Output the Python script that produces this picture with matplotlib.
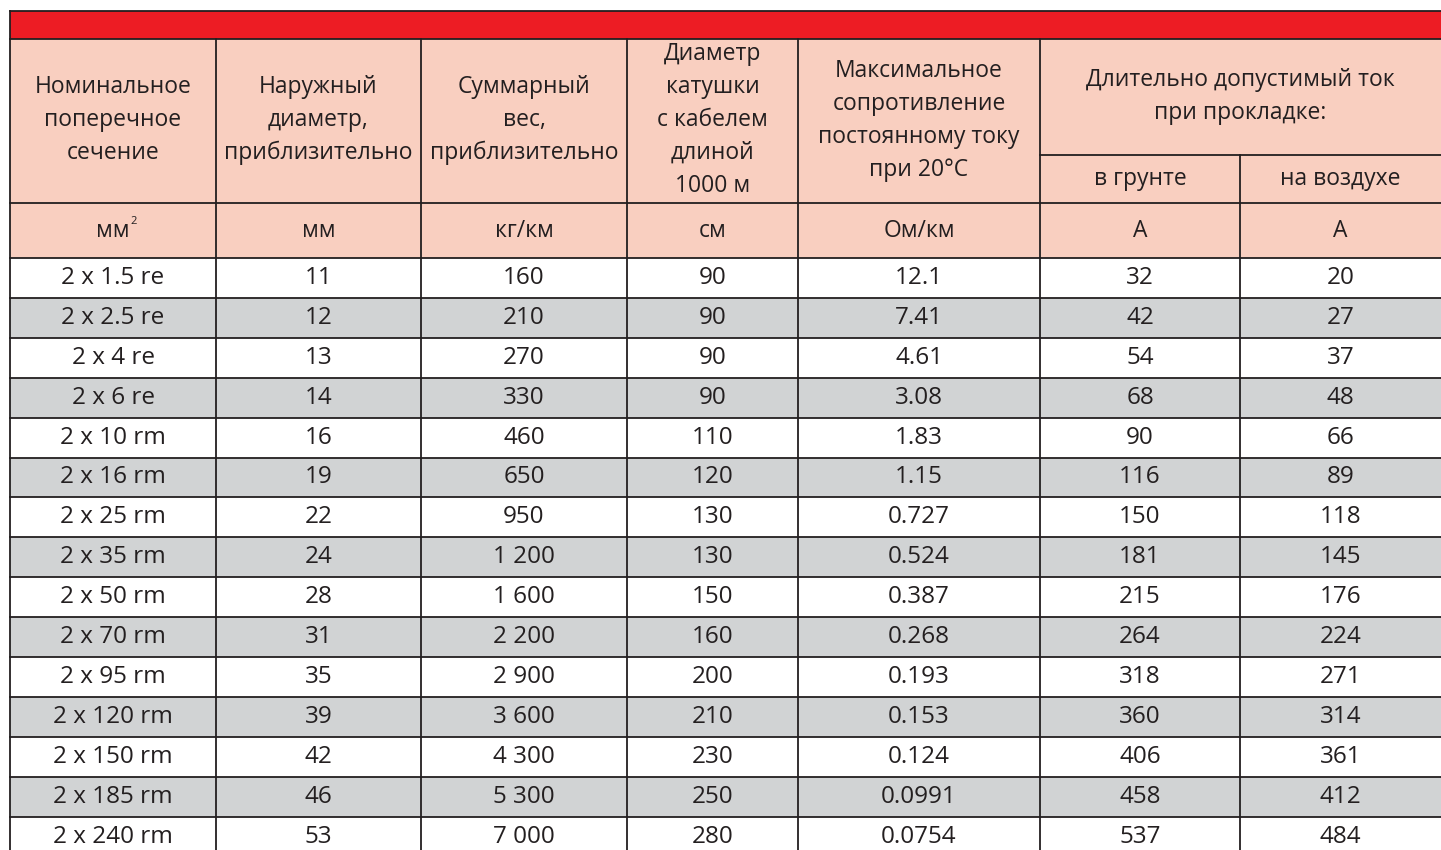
import matplotlib.pyplot as plt
from matplotlib.patches import Rectangle

# table content
sections = ["2 x 1.5 re", "2 x 2.5 re", "2 x 4 re", "2 x 6 re", "2 x 10 rm",
            "2 x 16 rm", "2 x 25 rm", "2 x 35 rm", "2 x 50 rm", "2 x 70 rm",
            "2 x 95 rm", "2 x 120 rm", "2 x 150 rm", "2 x 185 rm", "2 x 240 rm"]
outer_diam = ["11", "12", "13", "14", "16", "19", "22", "24", "28", "31",
              "35", "39", "42", "46", "53"]
weight = ["160", "210", "270", "330", "460", "650", "950", "1 200", "1 600",
          "2 200", "2 900", "3 600", "4 300", "5 300", "7 000"]
drum_diam = ["90", "90", "90", "90", "110", "120", "130", "130", "150", "160",
             "200", "210", "230", "250", "280"]
resistance = ["12.1", "7.41", "4.61", "3.08", "1.83", "1.15", "0.727", "0.524",
              "0.387", "0.268", "0.193", "0.153", "0.124", "0.0991", "0.0754"]
current_ground = ["32", "42", "54", "68", "90", "116", "150", "181", "215",
                  "264", "318", "360", "406", "458", "537"]
current_air = ["20", "27", "37", "48", "66", "89", "118", "145", "176", "224",
               "271", "314", "361", "412", "484"]

headers = ["Номинальное\nпоперечное\nсечение", "Наружный\nдиаметр,\nприблизительно",
           "Суммарный\nвес,\nприблизительно", "Диаметр\nкатушки\nс кабелем\nдлиной\n1000 м",
           "Максимальное\nсопротивление\nпостоянному току\nпри 20°C"]
group_header = "Длительно допустимый ток\nпри прокладке:"
sub_headers = ["в грунте", "на воздухе"]
units = ["мм", "мм", "кг/км", "см", "Ом/км", "А", "А"]

columns = [sections, outer_diam, weight, drum_diam, resistance, current_ground, current_air]

# layout (pixels)
col_x = [10, 216, 421, 627, 798, 1040, 1240, 1441]
y_red_top, y_head, y_sub, y_units, y_data = 11, 39, 155, 203, 258
row_h = 39.9

RED = "#ED1C24"
PINK = "#F9CFC0"
GREY = "#D1D3D4"
LINE = "#231F20"
TXT = "#231F20"

plt.rcParams['font.family'] = ['Open Sans', 'DejaVu Sans']

fig = plt.figure(figsize=(14.41, 8.5), dpi=100)
ax = fig.add_axes([0, 0, 1, 1])
ax.set_xlim(0, 1441)
ax.set_ylim(850, 0)
ax.axis("off")

x0, x1 = col_x[0], col_x[-1]
n = len(sections)
y_end = y_data + n * row_h

# backgrounds
ax.add_patch(Rectangle((x0, y_red_top), x1 - x0, y_head - y_red_top, color=RED, lw=0))
ax.add_patch(Rectangle((x0, y_head), x1 - x0, y_data - y_head, color=PINK, lw=0))
for i in range(n):
    if i % 2 == 1:
        ax.add_patch(Rectangle((x0, y_data + i * row_h), x1 - x0, row_h, color=GREY, lw=0))

lw = 1.3
# horizontal lines
ax.plot([x0, x1], [y_red_top, y_red_top], color=LINE, lw=lw)
ax.plot([x0, x1], [y_head, y_head], color=LINE, lw=lw)
ax.plot([col_x[5], x1], [y_sub, y_sub], color=LINE, lw=lw)
ax.plot([x0, x1], [y_units, y_units], color=LINE, lw=lw)
for i in range(n + 1):
    y = y_data + i * row_h
    ax.plot([x0, x1], [y, y], color=LINE, lw=lw)
# vertical lines
ax.plot([x0, x0], [y_red_top, y_end], color=LINE, lw=lw)
for j, x in enumerate(col_x[1:-1], start=1):
    top = y_sub if j == 6 else y_head
    ax.plot([x, x], [top, y_end], color=LINE, lw=lw)

# header text
fs_head = 16.5
ls_head = 1.5
for j, h in enumerate(headers):
    cx = (col_x[j] + col_x[j + 1]) / 2
    ax.text(cx, 120, h, ha="center", va="center", fontsize=fs_head, color=TXT,
            linespacing=ls_head)
ax.text((col_x[5] + col_x[7]) / 2, 96, group_header, ha="center", va="center",
        fontsize=fs_head, color=TXT, linespacing=ls_head)
for k, s in enumerate(sub_headers):
    cx = (col_x[5 + k] + col_x[6 + k]) / 2
    ax.text(cx, (y_sub + y_units) / 2, s, ha="center", va="center", fontsize=fs_head, color=TXT)
for j, u in enumerate(units):
    cx = (col_x[j] + col_x[j + 1]) / 2
    t = ax.text(cx, (y_units + y_data) / 2, u, ha="center", va="center",
                fontsize=fs_head, color=TXT)
    if j == 0:
        ax.text(cx + 17, (y_units + y_data) / 2 - 9, "2", ha="left", va="center",
                fontsize=8, color=TXT)

# data cells
fs_data = 17.5
for j, col in enumerate(columns):
    cx = (col_x[j] + col_x[j + 1]) / 2
    for i, v in enumerate(col):
        cy = y_data + (i + 0.5) * row_h
        ax.text(cx, cy, v, ha="center", va="center", fontsize=fs_data, color=TXT)

plt.savefig("out.png", dpi=100)
